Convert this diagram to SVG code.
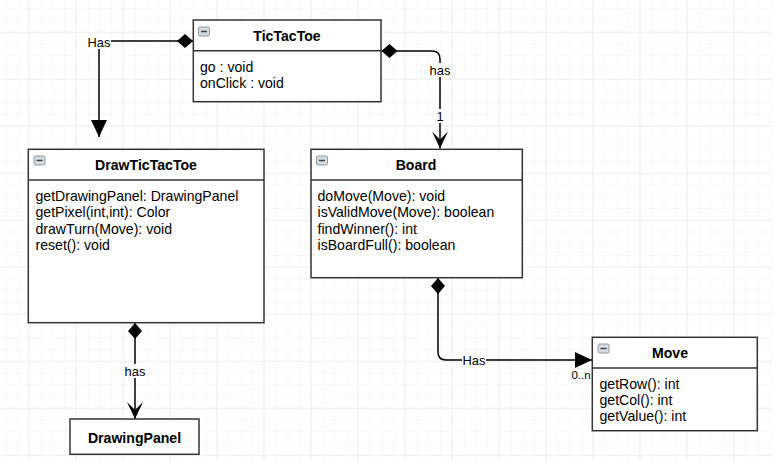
<svg xmlns="http://www.w3.org/2000/svg" width="780" height="461" viewBox="0 0 780 461">
<defs>
<pattern id="minor" x="5.5" y="8.2" width="11.75" height="11.75" patternUnits="userSpaceOnUse">
<path d="M0 0V11.75M0 0H11.75" fill="none" stroke="#f2f2f2" stroke-width="1"/>
</pattern>
<pattern id="major" x="28.3" y="31.7" width="47" height="47" patternUnits="userSpaceOnUse">
<path d="M0 0V47M0 0H47" fill="none" stroke="#e4e4e4" stroke-width="1"/>
</pattern>
<marker id="block" viewBox="0 0 17 16" refX="17" refY="8" markerWidth="17" markerHeight="16" markerUnits="userSpaceOnUse" orient="auto">
<path d="M0 0L17 8L0 16Z" fill="#000"/>
</marker>
<marker id="classic" viewBox="0 0 17 16" refX="17" refY="8" markerWidth="17" markerHeight="16" markerUnits="userSpaceOnUse" orient="auto">
<path d="M0 0L17 8L0 16L8 8Z" fill="#000"/>
</marker>
<marker id="diamond" viewBox="0 0 16 14" refX="0" refY="7" markerWidth="16" markerHeight="14" markerUnits="userSpaceOnUse" orient="auto">
<path d="M0 7L8 0L16 7L8 14Z" fill="#000"/>
</marker>
<g id="icon">
<rect x="0" y="0" width="11" height="9" rx="1.5" fill="#d5dbe2" stroke="#8a97a3" stroke-width="1"/>
<path d="M2.5 4.5H8.5" stroke="#444" stroke-width="1.5"/>
</g>
</defs>
<style>
.box{fill:#fff;stroke:#333;stroke-width:1.5}
.sep{stroke:#333;stroke-width:1.5}
.title{font-family:"Liberation Sans",Arial,sans-serif;font-size:14.1px;font-weight:bold;fill:#000;text-anchor:middle}
.m{font-family:"Liberation Sans",Arial,sans-serif;font-size:14.1px;fill:#000}
.edge{fill:none;stroke:#000;stroke-width:1.5}
.lbl{font-family:"Liberation Sans",Arial,sans-serif;font-size:12.9px;fill:#000;text-anchor:middle}
.lblbg{fill:#fff}
</style>
<rect x="0" y="0" width="780" height="461" fill="#fff"/>
<rect x="0" y="0" width="772" height="461" fill="url(#minor)"/>
<rect x="0" y="0" width="772" height="461" fill="url(#major)"/>

<g id="connectors">
<path class="edge" d="M193 41H99V137" marker-start="url(#diamond)" marker-end="url(#block)"/>
<path class="edge" d="M381.5 51H432Q440 51 440 59V148.5" marker-start="url(#diamond)" marker-end="url(#classic)"/>
<path class="edge" d="M438 278V352Q438 360 446 360H592" marker-start="url(#diamond)" marker-end="url(#block)"/>
<path class="edge" d="M135 323V419" marker-start="url(#diamond)" marker-end="url(#classic)"/>
<rect class="lblbg" x="87" y="34" width="24" height="15"/>
<text class="lbl" x="99" y="46.5">Has</text>
<rect class="lblbg" x="429" y="63" width="22" height="14"/>
<text class="lbl" x="440" y="74.5">has</text>
<rect class="lblbg" x="435" y="109" width="10" height="14"/>
<text class="lbl" x="440" y="120.5">1</text>
<rect class="lblbg" x="462" y="353" width="24" height="14"/>
<text class="lbl" x="474" y="364.5">Has</text>
<text class="lbl" x="581" y="379" style="font-size:11.5px">0..n</text>
<rect class="lblbg" x="124" y="364" width="22" height="14"/>
<text class="lbl" x="135" y="375.5">has</text>
</g>

<g id="TicTacToe">
<rect class="box" x="193.3" y="20" width="187.7" height="81.7"/>
<line class="sep" x1="193.3" y1="50.7" x2="381" y2="50.7"/>
<use href="#icon" x="198.5" y="27"/>
<text class="title" x="287" y="41">TicTacToe</text>
<text class="m" x="200" y="72">go : void</text>
<text class="m" x="200" y="88">onClick : void</text>
</g>

<g id="DrawTicTacToe">
<rect class="box" x="28.3" y="149.3" width="235.7" height="173.4"/>
<line class="sep" x1="28.3" y1="180" x2="264" y2="180"/>
<use href="#icon" x="34" y="156"/>
<text class="title" x="146" y="170">DrawTicTacToe</text>
<text class="m" x="35.5" y="200.5">getDrawingPanel: DrawingPanel</text>
<text class="m" x="35.5" y="217">getPixel(int,int): Color</text>
<text class="m" x="35.5" y="233.5">drawTurn(Move): void</text>
<text class="m" x="35.5" y="250">reset(): void</text>
</g>

<g id="Board">
<rect class="box" x="311" y="149.3" width="211.3" height="128.4"/>
<line class="sep" x1="311" y1="180" x2="522.3" y2="180"/>
<use href="#icon" x="316.5" y="156"/>
<text class="title" x="416" y="170">Board</text>
<text class="m" x="317.5" y="200.5">doMove(Move): void</text>
<text class="m" x="317.5" y="217">isValidMove(Move): boolean</text>
<text class="m" x="317.5" y="233.5">findWinner(): int</text>
<text class="m" x="317.5" y="250">isBoardFull(): boolean</text>
</g>

<g id="Move">
<rect class="box" x="592.3" y="337.3" width="165" height="93.4"/>
<line class="sep" x1="592.3" y1="368" x2="757.3" y2="368"/>
<use href="#icon" x="598" y="344"/>
<text class="title" x="670" y="358">Move</text>
<text class="m" x="599.5" y="389">getRow(): int</text>
<text class="m" x="599.5" y="405">getCol(): int</text>
<text class="m" x="599.5" y="421">getValue(): int</text>
</g>

<g id="DrawingPanel">
<rect class="box" x="70" y="419" width="129" height="35.3"/>
<text class="title" x="134.5" y="442.5">DrawingPanel</text>
</g>
</svg>
